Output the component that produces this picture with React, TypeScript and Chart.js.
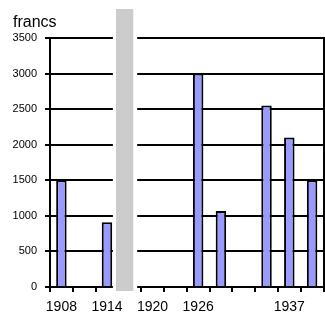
import React, { useEffect, useRef } from "react";
import { Chart, registerables } from "chart.js";

Chart.register(...registerables);

const categories = ["1908", "", "1914", "", "1920", "", "1926", "", "", "", "1937", ""];
const values = [1500, null, 910, null, null, null, 3000, 1070, null, 2550, 2100, 1500];
const yMin = 0;
const yMax = 3500;
const yStep = 500;
const unitLabel = "francs";
const breakIndex = 3;

const FONT = '"Liberation Sans", Arial, sans-serif';

export default function App() {
  const ref = useRef<HTMLCanvasElement | null>(null);

  useEffect(() => {
    if (!ref.current) return;
    const breakPlugin = {
      id: "breakPlugin",
      beforeDatasetsDraw(chart: any) {
        const { ctx, chartArea, scales } = chart;
        const x = scales.x;
        const left = x.getPixelForValue(breakIndex) - x.width / categories.length / 2;
        ctx.save();
        // right border
        ctx.strokeStyle = "#000";
        ctx.lineWidth = 2;
        ctx.beginPath();
        ctx.moveTo(Math.round(chartArea.right), chartArea.top - 1);
        ctx.lineTo(Math.round(chartArea.right), chartArea.bottom);
        ctx.stroke();
        // white gap
        ctx.fillStyle = "#fff";
        ctx.fillRect(left - 5.5, 30, 24.3, 266);
        // gray band
        ctx.fillStyle = "#cccccc";
        ctx.fillRect(left - 2.4, 9, 17.3, 282);
        ctx.restore();
      },
      afterDraw(chart: any) {
        const { ctx } = chart;
        ctx.save();
        ctx.font = "16px " + FONT;
        ctx.fillStyle = "#000";
        ctx.textAlign = "left";
        ctx.textBaseline = "alphabetic";
        ctx.fillText(unitLabel, 13, 27);
        ctx.restore();
      },
    };

    const chart = new Chart(ref.current, {
      type: "bar",
      data: {
        labels: categories,
        datasets: [
          {
            data: values as any,
            backgroundColor: "#9999ff",
            borderColor: "#000",
            borderWidth: 2,
            barPercentage: 0.46,
            categoryPercentage: 1,
          },
        ],
      },
      options: {
        animation: false,
        responsive: false,
        layout: { padding: { top: 38, right: 1.5, left: 0, bottom: 0 } },
        plugins: { legend: { display: false }, tooltip: { enabled: false } },
        scales: {
          x: {
            grid: {
              offset: true,
              drawOnChartArea: false,
              drawTicks: true,
              tickLength: 5,
              color: "#000",
              lineWidth: 2,
            },
            border: { display: true, color: "#000", width: 2 },
            ticks: {
              autoSkip: false,
              maxRotation: 0,
              padding: 7,
              color: "#000",
              font: { family: FONT, size: 14 },
            },
            afterFit: (s: any) => {
              s.height = 31;
            },
          },
          y: {
            min: yMin,
            max: yMax,
            ticks: {
              stepSize: yStep,
              padding: 8,
              color: "#000",
              font: { family: FONT, size: 11 },
              callback: (v: any) => String(v),
            },
            grid: {
              color: "#000",
              lineWidth: 2,
              tickLength: 5,
              drawTicks: true,
            },
            border: { display: true, color: "#000", width: 2 },
            afterFit: (s: any) => {
              s.width = 50;
            },
          },
        },
      },
      plugins: [breakPlugin],
    });
    return () => chart.destroy();
  }, []);

  return (
    <div style={{ position: "fixed", left: 0, top: 0, width: 325, height: 318, background: "#fff" }}>
      <canvas ref={ref} width={325} height={318} style={{ display: "block" }} />
    </div>
  );
}
